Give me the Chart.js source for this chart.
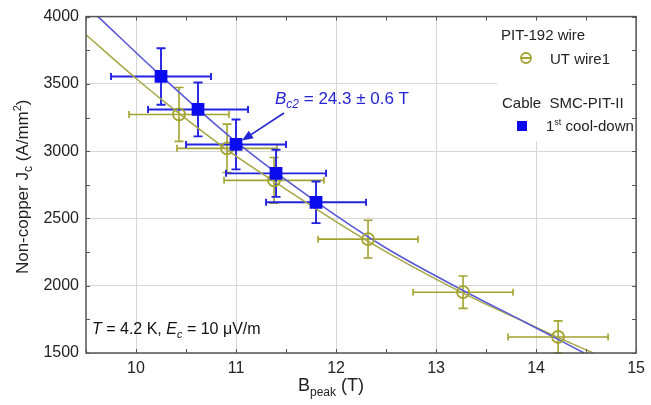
<!DOCTYPE html>
<html>
<head>
<meta charset="utf-8">
<script src="https://cdn.jsdelivr.net/npm/chart.js@4.4.1/dist/chart.umd.min.js"></script>
<style>
  html, body { margin: 0; padding: 0; background: #ffffff; }
  #wrap { width: 651px; height: 405px; }
</style>
</head>
<body>
<div id="wrap"><canvas id="chart-jc" width="651" height="405"></canvas></div>
<script>
/* Jc vs Bpeak — wire vs cable */

var FONT = '"Liberation Sans", Arial, sans-serif';
var INK    = '#222222';
var GRID   = '#d6d6d6';
var FRAME  = '#555555';
var BLUE   = '#0b0bef';
var BLUE_E = '#2222e0';
var BLUE_L = '#5a5ad8';
var OLIVE  = '#a3a330';
var OLIVE_L = '#a8a84a';

// axis ranges and tick labels
var xMajor = [10, 11, 12, 13, 14, 15];
var yMajor = [1500, 2000, 2500, 3000, 3500, 4000];

// PIT-192 wire, UT wire1
var wireB    = [10.43, 10.91, 11.38, 12.32, 13.27, 14.22];
var wireJc   = [3273, 3021, 2783, 2346, 1952, 1619];
var wireBErr = [0.5, 0.5, 0.5, 0.5, 0.5, 0.5];
var wireJErr = [200, 180, 170, 140, 120, 120];

// Cable SMC-PIT-II, 1st cool-down
var cableB    = [10.25, 10.62, 11.0, 11.4, 11.8];
var cableJc   = [3555, 3310, 3050, 2835, 2620];
var cableBErr = [0.5, 0.5, 0.5, 0.5, 0.5];
var cableJErr = [210, 200, 185, 175, 155];

// fit curves
var wireFitB  = [9.5, 10.0, 10.43, 10.91, 11.38, 12.32, 13.27, 13.9, 14.22, 14.57];
var wireFitJ  = [3865, 3540, 3280, 3010, 2775, 2330, 1945, 1725, 1615, 1500];
var cableFitB = [9.62, 10.25, 11.0, 11.8, 12.5, 13.27, 13.9, 14.48];
var cableFitJ = [4000, 3560, 3070, 2625, 2280, 1965, 1725, 1500];

function pts(xs, ys) {
  return xs.map(function(x, i) { return { x: x, y: ys[i] }; });
}

function drawRich(ctx, x, y, parts, size, color) {
  // parts: [text, style] style: '', 'i', 'sub', 'isub', 'sup'
  ctx.fillStyle = color;
  ctx.textBaseline = 'alphabetic';
  ctx.textAlign = 'left';
  parts.forEach(function(p) {
    var t = p[0], s = p[1] || '';
    var sz = size, dy = 0, it = s.indexOf('i') === 0;
    if (s.indexOf('sub') >= 0) { sz = Math.round(size * 0.68); dy = size * 0.25; }
    if (s.indexOf('sup') >= 0) { sz = Math.round(size * 0.62); dy = -size * 0.42; }
    ctx.font = (it ? 'italic ' : '') + sz + 'px ' + FONT;
    ctx.fillText(t, x, y + dy);
    x += ctx.measureText(t).width;
  });
  return x;
}

function richWidth(ctx, parts, size) {
  var w = 0;
  parts.forEach(function(p) {
    var s = p[1] || '', sz = size;
    if (s.indexOf('sub') >= 0) sz = Math.round(size * 0.68);
    if (s.indexOf('sup') >= 0) sz = Math.round(size * 0.62);
    ctx.font = (s.indexOf('i') === 0 ? 'italic ' : '') + sz + 'px ' + FONT;
    w += ctx.measureText(p[0]).width;
  });
  return w;
}

function errorBars(ctx, xs, ys, bx, by, xS, yS, color, lw) {
  ctx.strokeStyle = color;
  ctx.lineWidth = lw;
  var cap = 3.5;
  for (var i = 0; i < xs.length; i++) {
    var px = xS.getPixelForValue(xs[i]);
    var py = yS.getPixelForValue(ys[i]);
    var x0 = xS.getPixelForValue(xs[i] - bx[i]);
    var x1 = xS.getPixelForValue(xs[i] + bx[i]);
    var y0 = yS.getPixelForValue(ys[i] - by[i]);
    var y1 = yS.getPixelForValue(ys[i] + by[i]);
    ctx.beginPath();
    ctx.moveTo(x0, py); ctx.lineTo(x1, py);
    ctx.moveTo(x0, py - cap); ctx.lineTo(x0, py + cap);
    ctx.moveTo(x1, py - cap); ctx.lineTo(x1, py + cap);
    ctx.moveTo(px, y0); ctx.lineTo(px, y1);
    ctx.moveTo(px - cap - 1, y0); ctx.lineTo(px + cap + 1, y0);
    ctx.moveTo(px - cap - 1, y1); ctx.lineTo(px + cap + 1, y1);
    ctx.stroke();
  }
}

var decorPlugin = {
  id: 'decor',
  beforeDatasetsDraw: function(chart) {
    var ctx = chart.ctx, a = chart.chartArea;
    var xS = chart.scales.x, yS = chart.scales.y;
    ctx.save();
    // legend background
    ctx.fillStyle = '#ffffff';
    ctx.fillRect(497, a.top + 1, a.right - 498, 124);
    errorBars(ctx, wireB, wireJc, wireBErr, wireJErr, xS, yS, OLIVE, 1.6);
    errorBars(ctx, cableB, cableJc, cableBErr, cableJErr, xS, yS, BLUE_E, 1.9);
    ctx.restore();
  },
  afterDraw: function(chart) {
    var ctx = chart.ctx, a = chart.chartArea;
    var xS = chart.scales.x, yS = chart.scales.y;
    ctx.save();

    // frame
    ctx.strokeStyle = FRAME;
    ctx.lineWidth = 1.5;
    ctx.strokeRect(a.left, a.top, a.right - a.left, a.bottom - a.top);

    // inward ticks on all sides
    ctx.lineWidth = 1;
    ctx.beginPath();
    var v, p;
    for (v = 9.5; v <= 15.001; v += 0.5) {
      p = Math.round(xS.getPixelForValue(v)) + 0.5;
      ctx.moveTo(p, a.bottom); ctx.lineTo(p, a.bottom - 4);
      ctx.moveTo(p, a.top); ctx.lineTo(p, a.top + 4);
    }
    for (v = 1500; v <= 4000; v += 250) {
      p = Math.round(yS.getPixelForValue(v)) + 0.5;
      ctx.moveTo(a.left, p); ctx.lineTo(a.left + 4, p);
      ctx.moveTo(a.right, p); ctx.lineTo(a.right - 4, p);
    }
    ctx.stroke();

    // axis titles
    var xt = [['B', ''], ['peak', 'sub'], [' (T)', '']];
    drawRich(ctx, 298, 391, xt, 18, INK);

    var yt = [['Non-copper J', ''], ['c', 'sub'], [' (A/mm', ''], ['2', 'sup'], [')', '']];
    ctx.save();
    ctx.translate(28, (a.top + a.bottom) / 2 + 2);
    ctx.rotate(-Math.PI / 2);
    var w = richWidth(ctx, yt, 17);
    drawRich(ctx, -w / 2, 0, yt, 17, INK);
    ctx.restore();

    // conditions
    drawRich(ctx, 92, 334, [['T', 'i'], [' = 4.2 K, ', ''], ['E', 'i'], ['c', 'isub'], [' = 10 \u03bcV/m', '']], 16, '#111111');

    // Bc2 annotation with arrow
    drawRich(ctx, 275, 104, [['B', 'i'], ['c2', 'isub'], [' = 24.3 \u00b1 0.6 T', '']], 17, '#2424d2');
    var tx = xS.getPixelForValue(cableB[2]) + 6, ty = yS.getPixelForValue(cableJc[2]) - 4;
    var fx = 284, fy = 113;
    var ang = Math.atan2(ty - fy, tx - fx);
    ctx.strokeStyle = '#2424d2';
    ctx.fillStyle = '#2424d2';
    ctx.lineWidth = 1.6;
    ctx.beginPath();
    ctx.moveTo(fx, fy);
    ctx.lineTo(tx - 8 * Math.cos(ang), ty - 8 * Math.sin(ang));
    ctx.stroke();
    ctx.beginPath();
    ctx.moveTo(tx, ty);
    ctx.lineTo(tx - 11 * Math.cos(ang) + 4.5 * Math.sin(ang), ty - 11 * Math.sin(ang) - 4.5 * Math.cos(ang));
    ctx.lineTo(tx - 11 * Math.cos(ang) - 4.5 * Math.sin(ang), ty - 11 * Math.sin(ang) + 4.5 * Math.cos(ang));
    ctx.closePath();
    ctx.fill();

    // legend
    drawRich(ctx, 501, 40, [['PIT-192 wire', '']], 15, INK);
    ctx.strokeStyle = OLIVE;
    ctx.lineWidth = 1.8;
    ctx.beginPath();
    ctx.arc(526, 58, 5, 0, Math.PI * 2);
    ctx.moveTo(521, 58); ctx.lineTo(531, 58);
    ctx.stroke();
    drawRich(ctx, 550, 64, [['UT wire1', '']], 15, INK);
    drawRich(ctx, 502, 108, [['Cable  SMC-PIT-II', '']], 15, INK);
    ctx.fillStyle = BLUE;
    ctx.fillRect(517, 121, 10, 10);
    drawRich(ctx, 546, 131, [['1', ''], ['st', 'sup'], [' cool-down', '']], 15, INK);

    ctx.restore();
  }
};

new Chart(document.getElementById('chart-jc'), {
  type: 'scatter',
  data: {
    datasets: [
      {
        label: 'UT wire1',
        data: pts(wireB, wireJc),
        pointStyle: 'circle',
        pointRadius: 6,
        pointBackgroundColor: 'rgba(0,0,0,0)',
        pointBorderColor: OLIVE,
        pointBorderWidth: 1.8,
        order: 1
      },
      {
        label: '1st cool-down',
        data: pts(cableB, cableJc),
        pointStyle: 'rect',
        pointRadius: 9,
        pointBackgroundColor: BLUE,
        pointBorderColor: BLUE,
        pointBorderWidth: 0,
        order: 0
      },
      {
        label: 'wire fit',
        data: pts(wireFitB, wireFitJ),
        showLine: true,
        pointRadius: 0,
        borderColor: OLIVE_L,
        borderWidth: 1.6,
        cubicInterpolationMode: 'monotone',
        order: 3
      },
      {
        label: 'cable fit',
        data: pts(cableFitB, cableFitJ),
        showLine: true,
        pointRadius: 0,
        borderColor: BLUE_L,
        borderWidth: 1.6,
        cubicInterpolationMode: 'monotone',
        order: 2
      }
    ]
  },
  options: {
    responsive: false,
    animation: false,
    layout: { padding: { top: 16, right: 9, left: 0, bottom: 0 } },
    plugins: {
      legend: { display: false },
      tooltip: { enabled: false }
    },
    scales: {
      x: {
        type: 'linear',
        min: 9.5, max: 15,
        afterFit: function(s) { s.height = 52; },
        border: { display: false },
        grid: {
          drawTicks: false,
          color: function(c) { return xMajor.indexOf(c.tick.value) >= 0 ? GRID : 'rgba(0,0,0,0)'; }
        },
        ticks: {
          stepSize: 0.5,
          padding: 6,
          autoSkip: false,
          maxRotation: 0,
          color: INK,
          font: { family: FONT, size: 16 },
          callback: function(v) { return xMajor.indexOf(v) >= 0 ? String(v) : ''; }
        }
      },
      y: {
        type: 'linear',
        min: 1500, max: 4000,
        afterFit: function(s) { s.width = 86; },
        border: { display: false },
        grid: {
          drawTicks: false,
          color: function(c) { return yMajor.indexOf(c.tick.value) >= 0 ? GRID : 'rgba(0,0,0,0)'; }
        },
        ticks: {
          stepSize: 250,
          padding: 7,
          autoSkip: false,
          color: INK,
          font: { family: FONT, size: 16 },
          callback: function(v) { return yMajor.indexOf(v) >= 0 ? String(v) : ''; }
        }
      }
    }
  },
  plugins: [decorPlugin]
});
</script>
</body>
</html>
